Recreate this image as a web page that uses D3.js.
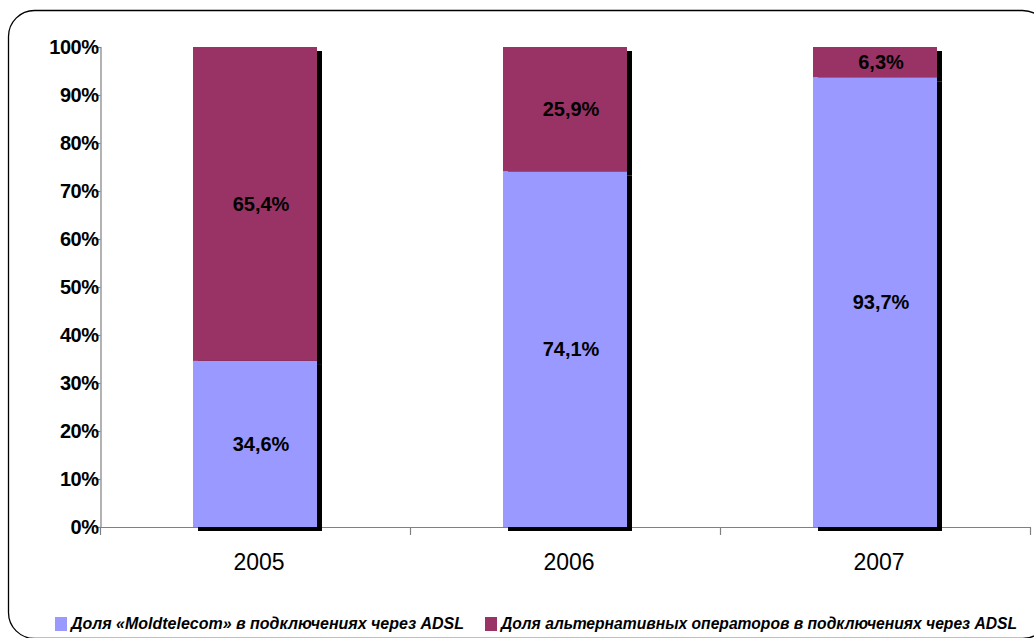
<!DOCTYPE html>
<html>
<head>
<meta charset="utf-8">
<script src="https://cdn.jsdelivr.net/npm/d3@7"></script>
<style>
  html, body { margin: 0; padding: 0; background: #fff; }
  svg { display: block; }
  text { font-family: "Liberation Sans", Arial, sans-serif; }
</style>
</head>
<body>
<svg id="chart" width="1034" height="638"></svg>
<script>
const years = ["2005", "2006", "2007"];
const moldtelecom = [34.6, 74.1, 93.7];
const alternative = [65.4, 25.9, 6.3];
const moldtelecomLabels = ["34,6%", "74,1%", "93,7%"];
const alternativeLabels = ["65,4%", "25,9%", "6,3%"];
const yTicks = [0, 10, 20, 30, 40, 50, 60, 70, 80, 90, 100];
const seriesNames = ["Доля «Moldtelecom» в подключениях через ADSL", "Доля альтернативных операторов в подключениях через ADSL"];
const colors = ["#9999FF", "#993366"];

(function () {
const svg = d3.select("#chart");

// outer rounded frame
svg.append("rect")
  .attr("x", 8.5).attr("y", 10.5)
  .attr("width", 1040).attr("height", 628)
  .attr("rx", 26).attr("ry", 26)
  .attr("fill", "#fff").attr("stroke", "#000").attr("stroke-width", 1.3);

const plotLeft = 100, plotRight = 1030, plotTop = 47, plotBottom = 527;

const x = d3.scaleBand().domain(years).range([plotLeft, plotRight])
  .paddingInner(0.6).paddingOuter(0.3);
const y = d3.scaleLinear().domain([0, 100]).range([plotBottom, plotTop]);

const data = years.map((yr, i) => ({
  year: yr,
  segs: [
    { y0: 0, y1: moldtelecom[i], color: colors[0], label: moldtelecomLabels[i] },
    { y0: moldtelecom[i], y1: moldtelecom[i] + alternative[i], color: colors[1], label: alternativeLabels[i] }
  ]
}));

const g = svg.append("g");
// shadows
data.forEach(d => {
  d.segs.forEach(s => {
    g.append("rect")
      .attr("x", x(d.year) + 5)
      .attr("y", y(s.y1) + 4)
      .attr("width", x.bandwidth())
      .attr("height", y(s.y0) - y(s.y1))
      .attr("fill", "#000");
  });
});

// x axis line
svg.append("line")
  .attr("x1", plotLeft).attr("x2", plotRight)
  .attr("y1", plotBottom + 0.5).attr("y2", plotBottom + 0.5)
  .attr("stroke", "#808080").attr("stroke-width", 1.2);

const g2 = svg.append("g");
// bars
data.forEach(d => {
  d.segs.forEach(s => {
    g2.append("rect")
      .attr("x", x(d.year))
      .attr("y", y(s.y1))
      .attr("width", x.bandwidth())
      .attr("height", y(s.y0) - y(s.y1))
      .attr("fill", s.color);
  });
  g2.append("rect")
    .attr("x", x(d.year) + 5).attr("y", plotBottom)
    .attr("width", x.bandwidth()).attr("height", 2)
    .attr("fill", "#000");
});

// y axis
const yAxis = d3.axisLeft(y).tickValues(yTicks).tickSize(5).tickFormat(d => d + "%");
const ya = svg.append("g").attr("transform", `translate(${plotLeft + 0.5},0)`).call(yAxis);
ya.select(".domain").attr("stroke", "#808080").attr("stroke-width", 1.2);
ya.selectAll(".tick line").attr("stroke", "#808080").attr("stroke-width", 1.2);
ya.selectAll(".tick text")
  .attr("x", -2)
  .attr("fill", "#000")
  .style("font-size", "20px")
  .style("font-weight", "bold")
  .style("letter-spacing", "-0.5px")
  .style("font-family", '"Liberation Sans", Arial, sans-serif');

// x ticks at band boundaries
const boundaries = d3.range(years.length + 1).map(i => plotLeft + i * x.step());
svg.append("g").selectAll("line").data(boundaries).join("line")
  .attr("x1", d => d + 0.5).attr("x2", d => d + 0.5)
  .attr("y1", plotBottom).attr("y2", plotBottom + 8)
  .attr("stroke", "#808080").attr("stroke-width", 1.2);

// x labels
svg.append("g").selectAll("text").data(years).join("text")
  .attr("x", d => x(d) + x.bandwidth() / 2 + 4)
  .attr("y", 570)
  .attr("text-anchor", "middle")
  .style("font-size", "23px")
  .text(d => d);

// data labels
data.forEach(d => {
  d.segs.forEach(s => {
    svg.append("text")
      .attr("x", x(d.year) + x.bandwidth() / 2 + 6)
      .attr("y", (y(s.y0) + y(s.y1)) / 2)
      .attr("dy", "0.36em")
      .attr("text-anchor", "middle")
      .style("font-size", "20px")
      .style("font-weight", "bold")
      .text(s.label);
  });
});

// legend
const legendX = [55, 485];
const legendTextWidths = [393, 516];
seriesNames.forEach((name, i) => {
  svg.append("rect")
    .attr("x", legendX[i]).attr("y", 617)
    .attr("width", 12).attr("height", 14)
    .attr("fill", colors[i]);
  svg.append("text")
    .attr("x", legendX[i] + 16).attr("y", 629)
    .style("font-size", "16px")
    .style("font-weight", "bold")
    .style("font-style", "italic")
    .attr("textLength", legendTextWidths[i])
    .attr("lengthAdjust", "spacingAndGlyphs")
    .text(name);
});
})();
</script>
</body>
</html>
